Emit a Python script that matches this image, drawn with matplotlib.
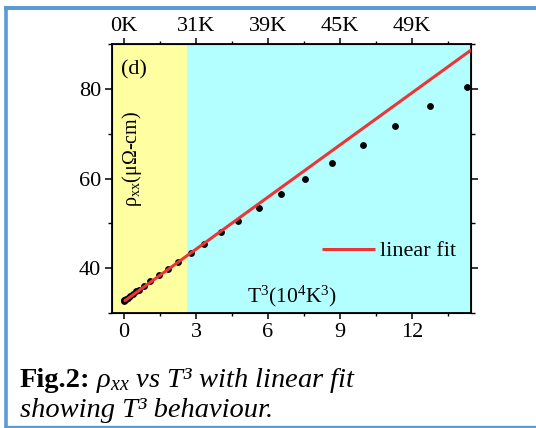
import numpy as np
import matplotlib
matplotlib.use("Agg")
import matplotlib.pyplot as plt
from matplotlib.lines import Line2D
from matplotlib.ticker import MultipleLocator

plt.rcParams['font.family'] = ['Liberation Serif', 'DejaVu Serif']
plt.rcParams['mathtext.fontset'] = 'custom'
plt.rcParams['mathtext.rm'] = 'Liberation Serif'
plt.rcParams['mathtext.it'] = 'Liberation Serif:italic'
plt.rcParams['mathtext.bf'] = 'Liberation Serif:bold'

# ---- data (T^3 in 1e4 K^3, rho_xx in uOhm-cm) ----
t3 = [0.00, 0.02, 0.05, 0.09, 0.15, 0.24, 0.36, 0.50, 0.62, 0.83, 1.10, 1.44,
      1.83, 2.27, 2.78, 3.35, 4.05, 4.76, 5.62, 6.53, 7.55, 8.67, 9.95, 11.28,
      12.76, 14.28]
rho = [32.6, 32.8, 32.9, 33.1, 33.4, 33.8, 34.3, 34.8, 35.2, 36.0, 37.1, 38.4,
       39.8, 41.4, 43.3, 45.5, 48.0, 50.5, 53.5, 56.5, 59.8, 63.4, 67.5, 71.6,
       76.1, 80.5]
fit_intercept = 32.6
fit_slope = 3.875
fit_range = [0.0, 15.0]
yellow_end = 2.61
bottom_ticks = [0, 3, 6, 9, 12]
top_tick_labels = ['0K', '31K', '39K', '45K', '49K']
y_ticks = [40, 60, 80]

FS = 16

fig = plt.figure(figsize=(5.36, 4.28), dpi=100)
ax = fig.add_axes([112/536, 1 - 313/428, (470.7 - 112)/536, (313 - 44)/428])
xlim = (-0.5, 14.45)
ylim = (30, 90)
ax.set_xlim(*xlim)
ax.set_ylim(*ylim)

ax.axvspan(xlim[0], yellow_end, color='#FFFFA2', zorder=0, lw=0)
ax.axvspan(yellow_end, xlim[1], color='#B3FFFF', zorder=0, lw=0)

ax.plot(t3, rho, 'o', color='black', ms=3.9, zorder=3)
fx = np.array(fit_range)
ax.plot(fx, fit_intercept + fit_slope * fx, color='#EE3535', lw=2.2, zorder=4,
        label='linear fit', solid_capstyle='butt')

ax.set_xticks(bottom_ticks)
ax.xaxis.set_minor_locator(MultipleLocator(1.5))
ax.set_yticks(y_ticks)
ax.yaxis.set_minor_locator(MultipleLocator(10))
ax.tick_params(axis='x', which='major', direction='out', length=4, width=1.1,
               labelsize=FS, pad=3)
ax.tick_params(axis='x', which='minor', direction='out', length=2.5, width=1.0)
ax.tick_params(axis='y', which='major', direction='out', length=5, width=1.1,
               labelsize=FS, pad=3, right=True)
ax.tick_params(axis='y', which='minor', direction='out', length=3, width=1.0, right=True)
for s in ax.spines.values():
    s.set_linewidth(1.3)

axt = ax.twiny()
axt.set_xlim(*xlim)
axt.set_xticks(bottom_ticks)
axt.set_xticklabels(top_tick_labels)
axt.xaxis.set_minor_locator(MultipleLocator(1.5))
axt.tick_params(axis='x', which='major', direction='out', length=4, width=1.1,
                labelsize=FS, pad=2)
axt.tick_params(axis='x', which='minor', direction='out', length=2.5, width=1.0)

leg = ax.legend(loc='center left', bbox_to_anchor=((322 - 112)/358.7, (313 - 251)/269),
                frameon=False, fontsize=FS, handlelength=2.4, handletextpad=0.22,
                borderpad=0, borderaxespad=0)

ax.text((246.7 - 112)/358.7, (313 - 296)/269, r'T$^3$(10$^4$K$^3$)', transform=ax.transAxes,
        fontsize=15.5, ha='left', va='center')
ax.text((121.5 - 112)/358.7, (313 - 70)/269, '(d)', transform=ax.transAxes,
        fontsize=FS, ha='left', va='center')
ax.text((132 - 112)/358.7, (313 - 159)/269, r'ρ$_{\mathrm{xx}}$(μΩ-cm)', transform=ax.transAxes,
        fontsize=14.5, ha='center', va='center', rotation=90)

# caption
CFS = 20.5
renderer = fig.canvas.get_renderer()
t1 = fig.text(20/536, 1 - 387/428, 'Fig.2:', fontsize=CFS, fontweight='bold',
              ha='left', va='baseline')
bb = t1.get_window_extent(renderer)
x_after = (bb.x1 + 5) / fig.bbox.width
fig.text(x_after, 1 - 387/428, r'$\rho_{xx}$ vs T³ with linear fit',
         fontsize=CFS, style='italic', ha='left', va='baseline')
fig.text(20/536, 1 - 417/428, 'showing T³ behaviour.',
         fontsize=CFS, style='italic', ha='left', va='baseline')

# blue frame
blue = '#5B9BD5'
fig.add_artist(Line2D([5.5/536, 5.5/536], [0, 1 - 6/428], transform=fig.transFigure,
                      color=blue, lw=2.6, solid_capstyle='butt'))
fig.add_artist(Line2D([3.7/536, 1], [1 - 8/428, 1 - 8/428], transform=fig.transFigure,
                      color=blue, lw=2.9, solid_capstyle='butt'))
fig.add_artist(Line2D([3.7/536, 1], [1 - 426.5/428, 1 - 426.5/428], transform=fig.transFigure,
                      color=blue, lw=2.4, solid_capstyle='butt'))

fig.savefig('out.png', dpi=100)
